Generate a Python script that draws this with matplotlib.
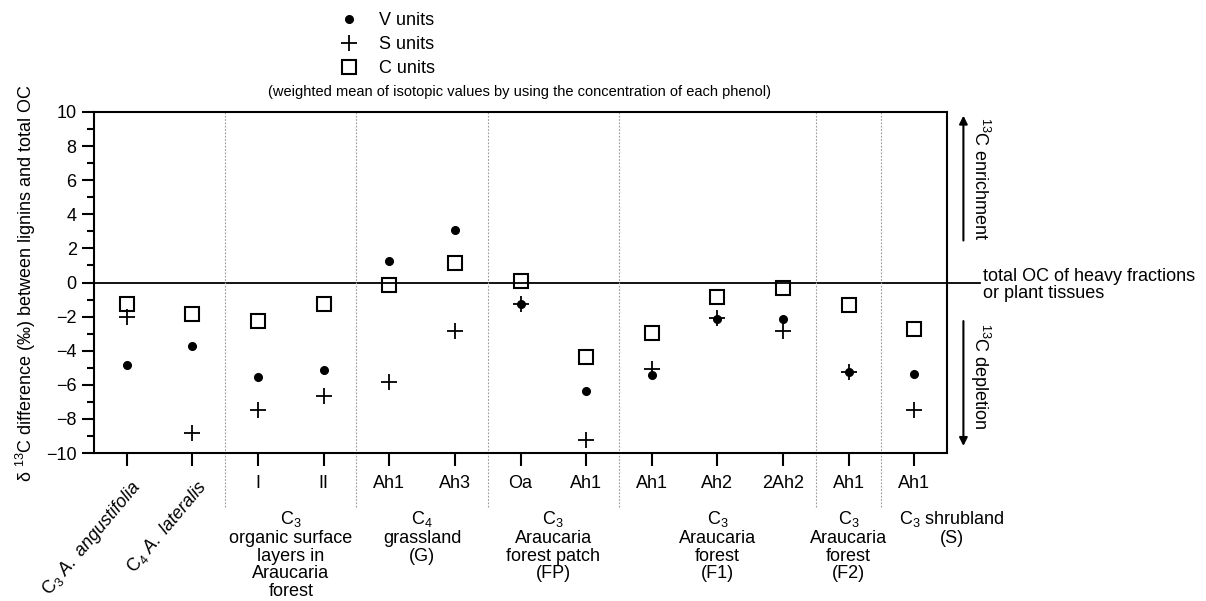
import matplotlib.pyplot as plt
from matplotlib.lines import Line2D
import matplotlib.transforms as mtransforms

plt.rcParams['font.family'] = ['Liberation Sans', 'DejaVu Sans']
plt.rcParams['mathtext.fontset'] = 'custom'
plt.rcParams['mathtext.rm'] = 'Liberation Sans'
plt.rcParams['mathtext.it'] = 'Liberation Sans:italic'

tick_labels = ['C$_3$ $\\it{A.\\ angustifolia}$', 'C$_4$ $\\it{A.\\ lateralis}$',
               'I', 'II', 'Ah1', 'Ah3', 'Oa', 'Ah1', 'Ah1', 'Ah2', '2Ah2', 'Ah1', 'Ah1']
v_units = [-4.85, -3.75, -5.55, -5.15, 1.25, 3.05, -1.25, -6.35, -5.45, -2.15, -2.15, -5.25, -5.35]
s_units = [-2.05, -8.85, -7.45, -6.65, -5.85, -2.85, -1.25, -9.25, -5.1, -2.1, -2.85, -5.25, -7.45]
c_units = [-1.25, -1.85, -2.25, -1.25, -0.12, 1.15, 0.08, -4.35, -2.95, -0.85, -0.32, -1.32, -2.75]

separators = [1.5, 3.5, 5.5, 7.5, 10.5, 11.5]
groups = [(2.5, 'C$_3$\norganic surface\nlayers in\nAraucaria\nforest'),
          (4.5, 'C$_4$\ngrassland\n(G)'),
          (6.5, 'C$_3$\nAraucaria\nforest patch\n(FP)'),
          (9.0, 'C$_3$\nAraucaria\nforest\n(F1)'),
          (11.0, 'C$_3$\nAraucaria\nforest\n(F2)'),
          (12.57, 'C$_3$ shrubland\n(S)')]

fig = plt.figure(figsize=(12.06, 6.01), dpi=100)
ax = fig.add_axes([94 / 1206, 1 - 453 / 601, 853 / 1206, 341 / 601])

x = list(range(len(tick_labels)))
ax.plot(x, v_units, 'o', color='black', markersize=5.5, zorder=3)
ax.plot(x, s_units, '+', color='black', markersize=12, markeredgewidth=1.3, zorder=3)
ax.plot(x, c_units, 's', mfc='none', mec='black', markersize=10, markeredgewidth=1.5, zorder=3)

ax.set_xlim(-0.5, 12.5)
ax.set_ylim(-10, 10)
ax.set_yticks(range(-10, 11, 2))
ax.set_yticks(range(-9, 10, 2), minor=True)
ax.set_xticks(x)
ax.set_xticklabels([])
ax.tick_params(axis='y', which='major', length=9, width=1.5, labelsize=13, direction='out')
ax.tick_params(axis='y', which='minor', length=5, width=1.5)
ax.tick_params(axis='x', length=9, width=1.5)
for sp in ax.spines.values():
    sp.set_linewidth(1.5)

# zero line running past the right spine
ax.plot([-0.5, 13.0], [0, 0], color='black', lw=1.3, clip_on=False)

trans = mtransforms.blended_transform_factory(ax.transData, ax.transAxes)
for s in separators:
    ax.plot([s, s], [1, -0.162], transform=trans, color='#999999', lw=0.8,
            ls=(0, (1.5, 1.5)), clip_on=False)

# tick labels
for i, lab in enumerate(tick_labels):
    if i < 2:
        ax.text(i + 0.05, -0.07, lab, transform=trans, rotation=50, ha='right', va='top',
                rotation_mode='anchor', fontsize=13)
    else:
        ax.text(i, -0.065, lab, transform=trans, ha='center', va='top', fontsize=13)

for gx, lab in groups:
    ax.text(gx, -0.165, lab, transform=trans, ha='center', va='top', fontsize=13,
            linespacing=1.05)

ax.set_ylabel('δ $^{13}$C difference (‰) between lignins and total OC', fontsize=13,
              labelpad=6)

# right side annotations
ax.annotate('', xy=(12.75, 9.95), xytext=(12.75, 2.3), xycoords='data',
            arrowprops=dict(arrowstyle='-|>', color='black', lw=1.5, mutation_scale=12),
            annotation_clip=False)
ax.annotate('', xy=(12.75, -9.75), xytext=(12.75, -2.1), xycoords='data',
            arrowprops=dict(arrowstyle='-|>', color='black', lw=1.5, mutation_scale=12),
            annotation_clip=False)
ax.text(13.0, 9.7, '$^{13}$C enrichment', rotation=-90, ha='center', va='top',
        fontsize=13, clip_on=False)
ax.text(13.0, -2.4, '$^{13}$C depletion', rotation=-90, ha='center', va='top',
        fontsize=13, clip_on=False)
ax.text(13.05, -0.15, 'total OC of heavy fractions\nor plant tissues', ha='left',
        va='center', fontsize=13, linespacing=1.0, clip_on=False)

# legend
handles = [Line2D([], [], ls='none', marker='o', color='black', markersize=5.5),
           Line2D([], [], ls='none', marker='+', color='black', markersize=12, markeredgewidth=1.3),
           Line2D([], [], ls='none', marker='s', mfc='none', mec='black', markersize=10,
                  markeredgewidth=1.5)]
fig.legend(handles, ['V units', 'S units', 'C units'], loc='upper left',
           bbox_to_anchor=(328 / 1206, 1 - 5 / 601), frameon=False, fontsize=13,
           handletextpad=0.9, labelspacing=0.38, handlelength=1.5, borderaxespad=0)
fig.text(520 / 1206, 1 - 92 / 601,
         '(weighted mean of isotopic values by using the concentration of each phenol)',
         ha='center', va='center', fontsize=10.5)

fig.savefig('out.png', dpi=100)
